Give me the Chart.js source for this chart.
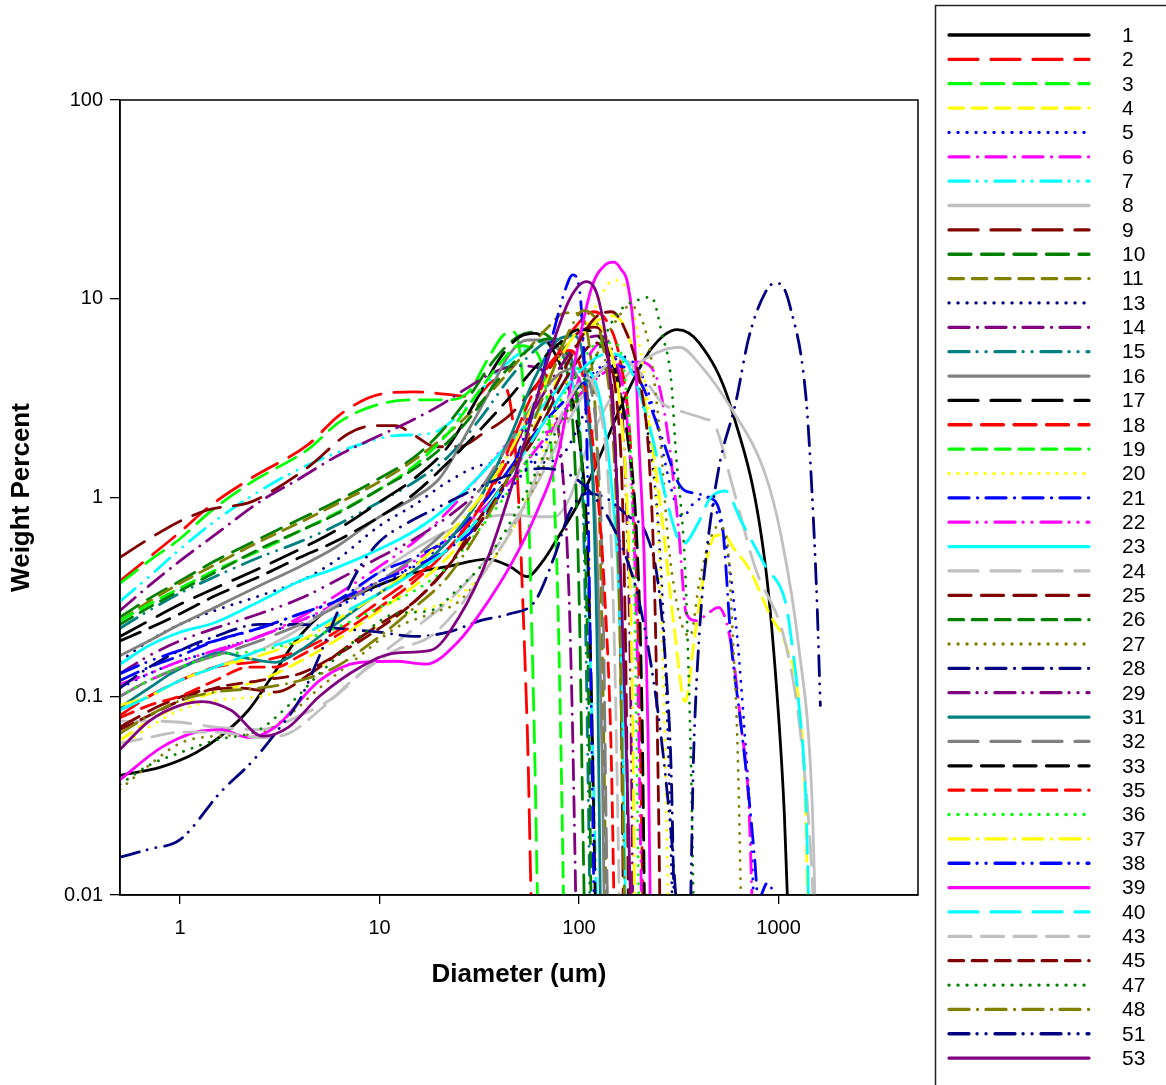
<!DOCTYPE html>
<html>
<head>
<meta charset="utf-8">
<script src="https://cdn.jsdelivr.net/npm/chart.js@4.4.1/dist/chart.umd.min.js"></script>
<style>
html, body { margin: 0; padding: 0; background: #fff; }
#wrap { width: 1166px; height: 1085px; }
</style>
</head>
<body>
<div id="wrap"><canvas id="chart_psd" width="1166" height="1085"></canvas></div>
<script>
// sample numbers, in legend order
const sample_ids = [1,2,3,4,5,6,7,8,9,10,11,13,14,15,16,17,18,19,20,21,22,23,24,25,26,27,28,29,31,32,33,35,36,37,38,39,40,43,45,47,48,51,53];

// tick labels
const x_tick_values = [1, 10, 100, 1000];
const y_tick_values = [0.01, 0.1, 1, 10, 100];

// [diameter um, weight percent]
const s1 = [[0.5,0.04],[0.8,0.044],[1.2,0.052],[1.6,0.063],[2.2,0.085],[2.8,0.12],[3.8,0.19],[5.4,0.27],[8,0.33],[14,0.41],[22,0.45],[35,0.49],[45,0.45],[55,0.4],[65,0.47],[80,0.65],[100,0.95],[130,1.7],[170,3.2],[230,5.6],[310,7.0],[400,6.0],[580,2.8],[860,0.45],[1000,0.08],[1070,0.025],[1120,0.007]];
const s2 = [[0.5,0.38],[0.7,0.5],[1,0.67],[1.4,0.9],[2.3,1.26],[4.4,1.85],[6.3,2.6],[10,3.3],[15,3.4],[22,3.3],[30,3.2],[38,3.9],[43,3.6],[47,2.2],[50,0.9],[52,0.34],[54,0.12],[55.5,0.05],[57,0.014],[58,0.006]];
const s3 = [[0.5,0.37],[0.7,0.48],[1,0.62],[1.4,0.84],[2.3,1.2],[4.4,1.75],[6.3,2.4],[10,2.95],[15,3.1],[22,3.1],[28,3.4],[35,5],[42,6.6],[47,6.8],[51,5],[54,2.2],[56,0.8],[58,0.21],[60,0.05],[61.5,0.013],[62.5,0.006]];
const s4 = [[0.5,0.06],[0.7,0.075],[1,0.09],[1.5,0.105],[2.5,0.12],[4,0.15],[6,0.19],[10,0.27],[15,0.36],[22,0.5],[32,0.78],[45,1.3],[65,2.7],[90,5.2],[120,7.6],[150,8.2],[180,6.2],[220,2.6],[260,0.8],[300,0.22],[340,0.094],[380,0.2],[430,0.45],[480,0.64],[530,0.65],[600,0.55],[710,0.44],[900,0.26],[1090,0.18],[1260,0.094],[1370,0.025],[1400,0.008]];
const s5 = [[0.5,0.11],[0.7,0.13],[1,0.15],[1.5,0.17],[2.5,0.2],[4,0.24],[6,0.28],[10,0.36],[15,0.46],[22,0.6],[32,0.8],[45,1.1],[65,1.8],[90,3],[120,4.3],[160,5],[200,4.4],[240,2.6],[290,1.1],[330,0.8],[380,0.95],[440,1.0],[500,0.8],[560,0.5],[620,0.2],[680,0.06],[720,0.025],[755,0.008]];
const s6 = [[0.5,0.1],[0.7,0.12],[1,0.14],[1.5,0.165],[2.5,0.2],[4,0.24],[6,0.29],[10,0.38],[15,0.48],[22,0.62],[32,0.85],[45,1.2],[65,1.9],[90,2.9],[120,3.9],[160,4.7],[200,4.8],[245,4.0],[280,2.0],[315,0.7],[345,0.26],[390,0.24],[440,0.26],[500,0.28],[580,0.18],[650,0.07],[710,0.028],[740,0.008]];
const s7 = [[0.5,0.3],[0.7,0.4],[1,0.55],[1.6,0.8],[3,1.2],[5,1.55],[8,1.85],[12,2.05],[18,2.1],[25,2.6],[35,3.8],[50,5.3],[65,6],[80,5.4],[95,3.3],[105,1.2],[112,0.25],[118,0.04],[123,0.007]];
const s8 = [[0.5,0.085],[0.7,0.1],[1,0.12],[1.5,0.14],[2.5,0.17],[4,0.22],[6,0.29],[10,0.42],[15,0.55],[22,0.68],[32,0.78],[45,0.82],[60,0.8],[75,0.8],[90,1.0],[110,1.8],[140,3],[180,4.3],[240,5.3],[320,5.7],[400,4.7],[580,2.8],[860,1.3],[1030,0.64],[1260,0.18],[1470,0.031],[1530,0.008]];
const s9 = [[0.5,0.5],[0.7,0.62],[1,0.76],[1.4,0.87],[2.2,0.94],[3,1.1],[4.5,1.45],[7,2.1],[9.5,2.3],[12,2.3],[15,2.05],[19,1.8],[25,1.8],[33,2.1],[45,2.6],[60,3.6],[80,5.2],[100,6.8],[120,7.2],[135,6],[148,3],[157,0.7],[163,0.08],[167,0.007]];
const s10 = [[0.5,0.25],[0.7,0.31],[1,0.38],[1.5,0.48],[2.5,0.62],[4,0.78],[6,0.95],[10,1.25],[15,1.6],[20,2.1],[28,3.2],[38,5],[50,6.5],[62,6.8],[75,6],[88,4],[96,1.3],[101,0.2],[104,0.03],[107,0.006]];
const s11 = [[0.5,0.24],[0.7,0.3],[1,0.37],[1.5,0.46],[2.5,0.6],[4,0.75],[6,0.92],[10,1.2],[15,1.55],[22,2.1],[30,2.8],[40,3.8],[55,5.5],[70,7.2],[85,8.5],[100,8.4],[112,6],[122,2.2],[128,0.5],[133,0.06],[137,0.007]];
const s13 = [[0.5,0.15],[0.7,0.19],[1,0.23],[1.5,0.27],[2.5,0.32],[4,0.38],[6,0.48],[10,0.72],[15,0.92],[22,1.2],[32,1.45],[45,1.5],[65,1.5],[85,1.7],[105,2.6],[130,4.4],[160,5.2],[190,4.2],[220,2.2],[250,0.7],[270,0.15],[285,0.03],[295,0.007]];
const s14 = [[0.5,0.27],[0.7,0.36],[1,0.48],[1.5,0.65],[2.5,0.95],[4,1.25],[6,1.6],[10,2.05],[14,2.4],[20,2.9],[28,3.6],[38,4.3],[50,4.6],[62,4.5],[72,3.5],[82,1.5],[88,0.45],[92,0.1],[95,0.02],[97,0.006]];
const s15 = [[0.5,0.22],[0.7,0.27],[1,0.33],[1.5,0.4],[2.5,0.5],[4,0.6],[6,0.72],[10,0.95],[15,1.2],[22,1.6],[32,2.5],[45,4],[60,5.5],[75,6.3],[88,5.5],[98,3.2],[105,0.8],[109,0.12],[112,0.02],[114,0.006]];
const s16 = [[0.5,0.16],[0.7,0.19],[1,0.23],[1.5,0.28],[2.5,0.36],[4,0.45],[6,0.56],[10,0.8],[15,1.0],[20,1.25],[28,2.2],[35,3.3],[45,5.3],[55,6.2],[65,6.2],[80,5.5],[95,4.3],[108,3],[118,1.2],[126,0.25],[131,0.04],[134,0.007]];
const s17 = [[0.5,0.2],[0.7,0.24],[1,0.29],[1.5,0.35],[2.5,0.44],[4,0.55],[6,0.68],[10,0.95],[15,1.25],[22,1.8],[30,3],[40,5],[50,6.4],[60,6.7],[70,6],[85,4],[100,2],[110,0.6],[116,0.08],[120,0.012],[122,0.005]];
const s18 = [[0.5,0.08],[0.7,0.1],[1,0.12],[1.5,0.14],[2.5,0.15],[4,0.17],[6,0.21],[10,0.3],[15,0.4],[22,0.55],[32,0.9],[45,1.6],[60,3],[80,5.5],[100,7.6],[118,8.6],[140,7.5],[160,5],[180,2],[195,0.35],[205,0.03],[210,0.006]];
const s19 = [[0.5,0.24],[0.7,0.29],[1,0.35],[1.5,0.43],[2.5,0.54],[4,0.68],[6,0.83],[10,1.1],[15,1.45],[22,2.1],[30,3.2],[40,4.7],[50,5.8],[60,5.5],[68,3.6],[74,1.3],[78,0.35],[81,0.06],[84,0.007]];
const s20 = [[0.5,0.055],[0.7,0.07],[1,0.085],[1.5,0.095],[2.5,0.1],[3.5,0.11],[5,0.14],[8,0.2],[12,0.25],[18,0.28],[25,0.32],[35,0.45],[50,0.8],[70,2],[95,5],[120,9],[150,12.4],[175,11],[200,6],[230,2],[255,0.4],[270,0.05],[280,0.008]];
const s21 = [[0.5,0.12],[0.7,0.14],[1,0.16],[1.5,0.19],[2.5,0.22],[4,0.26],[6,0.3],[10,0.42],[15,0.5],[22,0.62],[32,0.9],[45,1.4],[60,2.1],[80,2.9],[110,3.9],[150,4.6],[200,3.9],[260,2],[320,1.15],[380,1.05],[450,1.0],[520,0.75],[580,0.18],[650,0.07],[710,0.031],[760,0.015],[790,0.0095],[880,0.0115],[960,0.009],[1000,0.006]];
const s22 = [[0.5,0.115],[0.7,0.13],[1,0.15],[1.5,0.17],[2.5,0.2],[4,0.25],[6,0.32],[10,0.45],[15,0.6],[22,0.85],[32,1.3],[45,1.9],[60,2.1],[75,2.2],[90,3],[110,5],[130,6],[150,5],[170,3],[185,1],[195,0.2],[203,0.02],[207,0.006]];
const s23 = [[0.5,0.145],[0.7,0.18],[1,0.21],[1.5,0.235],[2.5,0.3],[4,0.38],[6,0.44],[10,0.55],[15,0.68],[22,0.9],[32,1.3],[45,1.9],[60,2.6],[80,3.6],[100,4.5],[115,4.2],[130,2.8],[145,1.2],[158,0.35],[166,0.06],[171,0.008]];
const s24 = [[0.5,0.075],[0.7,0.075],[1,0.074],[1.5,0.07],[2.5,0.068],[4,0.08],[6,0.1],[10,0.16],[15,0.22],[22,0.3],[32,0.45],[45,0.7],[65,1.3],[90,2.5],[120,4],[160,5],[200,4.3],[260,3],[330,2.7],[420,2.5],[480,2.3],[580,1.2],[760,0.45],[1090,0.18],[1300,0.06],[1470,0.013],[1520,0.006]];
const s25 = [[0.5,0.07],[0.8,0.09],[1.2,0.105],[2,0.11],[3,0.105],[4.5,0.13],[7,0.18],[10,0.23],[15,0.3],[22,0.45],[32,0.8],[45,1.3],[60,2],[80,3.5],[100,5],[120,6],[140,5],[155,3],[165,1],[172,0.12],[177,0.008]];
const s26 = [[0.5,0.23],[0.7,0.28],[1,0.34],[1.5,0.42],[2.5,0.55],[4,0.68],[6,0.82],[10,1.1],[15,1.4],[22,1.9],[30,2.7],[40,4],[55,5.5],[70,6.3],[85,5.5],[98,3],[106,0.8],[112,0.08],[115,0.008]];
const s27 = [[0.5,0.034],[0.7,0.045],[1,0.058],[1.5,0.063],[2.5,0.065],[3.5,0.08],[5,0.11],[8,0.16],[12,0.22],[18,0.26],[25,0.3],[35,0.45],[50,0.8],[70,1.6],[95,3],[120,5],[150,7.5],[180,9.2],[205,8],[230,5],[255,2],[280,0.6],[320,0.25],[360,0.2],[400,0.37],[450,0.6],[500,0.72],[550,0.62],[590,0.2],[625,0.05],[650,0.008]];
const s28 = [[0.5,0.11],[0.7,0.14],[1,0.17],[1.5,0.2],[2.5,0.23],[4,0.23],[6,0.22],[10,0.21],[15,0.2],[22,0.21],[32,0.24],[45,0.26],[60,0.3],[75,0.5],[90,0.85],[110,1.05],[135,1.0],[178,0.8],[215,0.67],[250,0.36],[275,0.12],[290,0.04],[300,0.008]];
const s29 = [[0.5,0.13],[0.7,0.16],[1,0.19],[1.5,0.22],[2.5,0.26],[4,0.31],[6,0.38],[10,0.5],[15,0.62],[22,0.8],[32,1.1],[45,1.7],[60,2.8],[80,4.5],[100,6],[125,6.5],[150,5],[165,2.5],[175,0.6],[182,0.08],[186,0.008]];
const s31 = [[0.5,0.088],[0.7,0.11],[0.9,0.13],[1.2,0.15],[1.6,0.166],[2.2,0.155],[3,0.148],[4,0.17],[6,0.23],[10,0.33],[15,0.43],[22,0.6],[32,1.0],[45,2],[60,4],[80,6.3],[95,6.5],[108,4],[118,1],[124,0.12],[128,0.008]];
const s32 = [[0.5,0.1],[0.7,0.12],[1,0.14],[1.5,0.16],[2.5,0.19],[4,0.23],[6,0.28],[10,0.38],[15,0.5],[22,0.7],[32,1.1],[45,1.9],[60,3],[80,4.2],[100,4.5],[115,3.5],[125,1.5],[132,0.3],[137,0.02],[140,0.006]];
const s33 = [[0.5,0.19],[0.7,0.22],[1,0.26],[1.5,0.32],[2.5,0.4],[4,0.5],[6,0.6],[10,0.8],[15,1.05],[22,1.5],[32,2.2],[45,3.2],[60,4.5],[80,6],[100,7],[125,6.5],[150,4.5],[175,2],[195,0.6],[207,0.08],[213,0.008]];
const s35 = [[0.5,0.078],[0.7,0.09],[1,0.1],[1.5,0.12],[2.2,0.14],[3,0.14],[4,0.16],[6,0.2],[10,0.28],[15,0.38],[22,0.55],[32,0.9],[45,1.8],[60,3.5],[75,5],[90,5.5],[105,4],[120,1.5],[135,0.3],[145,0.05],[150,0.008]];
const s36 = [[0.5,0.1],[0.7,0.12],[1,0.14],[1.5,0.16],[2.5,0.17],[4,0.19],[6,0.22],[10,0.28],[15,0.34],[22,0.45],[32,0.7],[45,1.1],[60,1.8],[80,3],[100,4.5],[125,6],[150,6],[170,4],[182,1.5],[190,0.3],[196,0.03],[200,0.007]];
const s37 = [[0.5,0.09],[0.7,0.1],[1,0.12],[1.5,0.14],[2.5,0.16],[4,0.19],[6,0.24],[10,0.33],[15,0.45],[22,0.65],[32,1.0],[45,1.7],[60,3],[80,5],[100,7],[120,7.5],[140,6],[160,3],[175,0.8],[185,0.1],[190,0.008]];
const s38 = [[0.5,0.13],[0.7,0.15],[1,0.17],[1.5,0.19],[2.5,0.22],[4,0.26],[6,0.3],[10,0.38],[15,0.45],[22,0.55],[32,0.75],[45,1.3],[60,3],[75,7],[85,11],[93,13.2],[100,11.5],[106,5],[110,1.5],[113,0.3],[116,0.05],[119,0.008]];
const s39 = [[0.5,0.038],[0.8,0.055],[1.2,0.066],[1.6,0.068],[2.2,0.062],[3,0.07],[5,0.12],[8,0.148],[12,0.15],[17,0.145],[25,0.19],[35,0.3],[45,0.45],[60,0.8],[80,1.8],[96,5],[116,11.5],[135,14.8],[150,15.3],[163,14],[175,12],[190,6],[200,1.8],[212,0.5],[222,0.06],[228,0.007]];
const s40 = [[0.5,0.085],[0.7,0.1],[1,0.12],[1.5,0.14],[2.5,0.17],[4,0.2],[6,0.25],[10,0.33],[15,0.42],[22,0.55],[32,0.8],[45,1.3],[65,2.3],[90,3.8],[120,5],[140,5.3],[170,4.9],[225,2.3],[280,0.9],[330,0.58],[400,0.76],[450,0.98],[540,1.08],[650,0.76],[860,0.45],[1090,0.29],[1170,0.18],[1260,0.094],[1370,0.03],[1420,0.008]];
const s43 = [[0.5,0.058],[0.7,0.062],[1,0.066],[1.5,0.066],[2.5,0.062],[3.5,0.065],[5,0.085],[8,0.13],[12,0.17],[18,0.2],[25,0.28],[35,0.45],[50,0.8],[65,1.5],[80,2.5],[95,3.5],[110,4],[125,3],[140,1.2],[150,0.2],[157,0.02],[160,0.006]];
const s45 = [[0.5,0.068],[0.7,0.08],[1,0.095],[1.5,0.11],[2.5,0.12],[4,0.13],[6,0.16],[10,0.22],[15,0.3],[22,0.45],[32,0.75],[45,1.3],[65,2.6],[90,5],[120,8],[145,8.6],[170,7],[200,4],[225,1.5],[240,0.3],[250,0.03],[255,0.007]];
const s47 = [[0.5,0.036],[0.7,0.045],[1,0.052],[1.5,0.06],[2.5,0.068],[3.5,0.09],[5,0.13],[8,0.2],[12,0.26],[18,0.27],[25,0.35],[35,0.5],[50,0.9],[70,1.8],[95,3.2],[120,5],[150,8],[170,9.2],[200,9.9],[230,10.2],[260,6.7],[290,3.8],[305,1.74],[340,0.44],[355,0.12],[365,0.04],[375,0.008]];
const s48 = [[0.5,0.065],[0.7,0.08],[1,0.095],[1.5,0.105],[2.5,0.11],[4,0.12],[6,0.14],[10,0.2],[15,0.28],[22,0.4],[32,0.7],[45,1.3],[60,2.5],[75,4.5],[90,7],[105,8.7],[120,8],[135,5],[148,2],[158,0.4],[165,0.04],[170,0.006]];
const s51 = [[0.5,0.0155],[0.7,0.017],[1,0.019],[1.6,0.033],[2.3,0.047],[3,0.065],[4,0.097],[5,0.16],[6.5,0.3],[8,0.45],[10,0.6],[14,0.75],[20,0.9],[30,1.1],[45,1.3],[65,1.4],[90,1.3],[120,1.0],[160,0.6],[200,0.3],[250,0.08],[290,0.02],[320,0.006],[355,0.005],[375,0.05],[400,0.2],[430,0.47],[500,1.38],[610,3.0],[710,6.4],[860,10.8],[960,12],[1030,11.8],[1140,9.2],[1370,3.25],[1470,1.08],[1560,0.29],[1620,0.09]];
const s53 = [[0.5,0.054],[0.7,0.075],[1,0.09],[1.3,0.094],[1.8,0.085],[2.6,0.063],[3.5,0.07],[5,0.1],[8,0.14],[12,0.165],[18,0.17],[25,0.25],[35,0.5],[50,1.5],[70,5],[90,10],[109,12.2],[125,10],[140,5],[152,1.7],[162,0.4],[172,0.06],[180,0.012],[185,0.005]];

const sample_data = [s1,s2,s3,s4,s5,s6,s7,s8,s9,s10,s11,s13,s14,s15,s16,s17,s18,s19,s20,s21,s22,s23,s24,s25,s26,s27,s28,s29,s31,s32,s33,s35,s36,s37,s38,s39,s40,s43,s45,s47,s48,s51,s53];

// sigmaplot style cycles: 15 colours, 7 line types
const line_colors = ["#000000","#ff0000","#00ff00","#ffff00","#0000ff","#ff00ff","#00ffff","#c0c0c0","#800000","#008000","#808000","#000080","#800080","#008080","#808080"];
const dash_styles = [
        [],                          // solid
        [29, 13],                    // long dash
        [22, 10.5],                  // medium dash
        [14.5, 8.8],                 // short dash
        [0.1, 8.9],                  // dotted
        [20, 8.5, 0.1, 8.4],         // dash dot
        [20, 8, 0.1, 8.9, 0.1, 8.9]  // dash dot dot
];
const font_family = '"Liberation Sans", Arial, Helvetica, sans-serif';

function build_datasets() {
        return sample_ids.map(function(id, i) {
                return {
                        label: String(id),
                        data: sample_data[i].map(function(p) { return {x: p[0], y: p[1]}; }),
                        borderColor: line_colors[i % line_colors.length],
                        borderDash: dash_styles[i % dash_styles.length],
                        borderWidth: 2.8,
                        borderCapStyle: "round",
                        borderJoinStyle: "round",
                        pointRadius: 0,
                        pointHoverRadius: 0,
                        cubicInterpolationMode: "monotone",
                        fill: false,
                        order: -i // later samples on top
                };
        });
}

// box round the plot area
const frame_box = {
        id: "frame_box",
        afterDatasetsDraw(chart) {
                const a = chart.chartArea;
                const ctx = chart.ctx;
                ctx.save();
                ctx.strokeStyle = "#000";
                ctx.lineWidth = 1.5;
                ctx.setLineDash([]);
                ctx.strokeRect(a.left, a.top, a.right - a.left, a.bottom - a.top);
                ctx.restore();
        }
};

// legend in its own tall box on the right
const legend_box = {
        id: "legend_box",
        afterDraw(chart) {
                const ctx = chart.ctx;
                ctx.save();
                ctx.strokeStyle = "#222";
                ctx.lineWidth = 1.5;
                ctx.strokeRect(935.5, 5.5, 300, 1200);
                chart.data.datasets.forEach(function(ds, i) {
                        const y = 35 + i * 24.36;
                        ctx.strokeStyle = ds.borderColor;
                        ctx.lineWidth = 3.3;
                        ctx.lineCap = "round";
                        ctx.setLineDash(ds.borderDash);
                        ctx.beginPath();
                        ctx.moveTo(949, y);
                        ctx.lineTo(1089, y);
                        ctx.stroke();
                        ctx.setLineDash([]);
                        ctx.fillStyle = "#000";
                        ctx.font = "21px " + font_family;
                        ctx.textAlign = "left";
                        ctx.textBaseline = "middle";
                        ctx.fillText(ds.label, 1122, y + 1);
                });
                ctx.restore();
        }
};

new Chart("chart_psd", {
        type: "line",
        data: { datasets: build_datasets() },
        plugins: [frame_box, legend_box],
        options: {
                responsive: false,
                animation: false,
                devicePixelRatio: 1,
                layout: { padding: { left: 0, top: 100, right: 248, bottom: 80 } },
                plugins: {
                        legend: { display: false },
                        tooltip: { enabled: false }
                },
                scales: {
                        x: {
                                type: "logarithmic",
                                min: 0.5,
                                max: 5000,
                                afterBuildTicks: function(scale) {
                                        scale.ticks = x_tick_values.map(function(v) { return {value: v}; });
                                },
                                afterFit: function(scale) { scale.height = 110; },
                                ticks: {
                                        autoSkip: false,
                                        maxRotation: 0,
                                        padding: 12,
                                        color: "#000",
                                        font: { family: font_family, size: 20 },
                                        callback: function(v) { return String(v); }
                                },
                                grid: { drawOnChartArea: false, tickLength: 9, color: "#000", lineWidth: 1.3 },
                                border: { color: "#000", width: 1.5 },
                                title: {
                                        display: true,
                                        text: "Diameter (um)",
                                        color: "#000",
                                        font: { family: font_family, size: 26, weight: "bold" },
                                        padding: { top: 0, bottom: 15 }
                                }
                        },
                        y: {
                                type: "logarithmic",
                                min: 0.01,
                                max: 100,
                                afterBuildTicks: function(scale) {
                                        scale.ticks = y_tick_values.map(function(v) { return {value: v}; });
                                },
                                afterFit: function(scale) { scale.width = 120; },
                                ticks: {
                                        autoSkip: false,
                                        padding: 7,
                                        color: "#000",
                                        font: { family: font_family, size: 20 },
                                        callback: function(v) { return String(v); }
                                },
                                grid: { drawOnChartArea: false, tickLength: 10, color: "#000", lineWidth: 1.3 },
                                border: { color: "#000", width: 1.5 },
                                title: {
                                        display: true,
                                        text: "Weight Percent",
                                        color: "#000",
                                        font: { family: font_family, size: 26, weight: "bold" },
                                        padding: { top: 6, bottom: 0 }
                                }
                        }
                }
        }
});
</script>
</body>
</html>
